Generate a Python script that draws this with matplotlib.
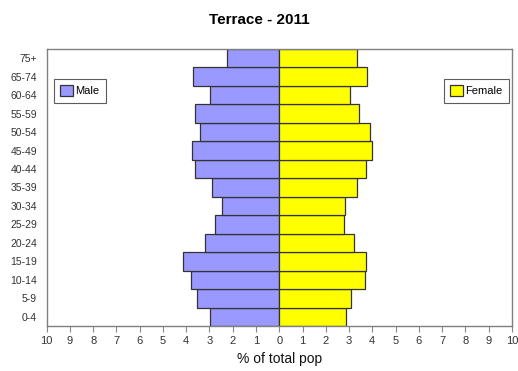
import matplotlib
matplotlib.use('Agg')
import matplotlib.pyplot as plt
import numpy as np

plt.rcParams['font.family'] = ['Liberation Sans', 'DejaVu Sans']

# Data (bottom to top)
age_groups = ['0-4', '5-9', '10-14', '15-19', '20-24', '25-29', '30-34', '35-39',
              '40-44', '45-49', '50-54', '55-59', '60-64', '65-74', '75+']
male = [2.97, 3.55, 3.78, 4.13, 3.21, 2.77, 2.45, 2.88,
        3.61, 3.74, 3.40, 3.61, 2.97, 3.70, 2.24]
female = [2.88, 3.09, 3.69, 3.75, 3.22, 2.78, 2.83, 3.35,
          3.73, 3.99, 3.91, 3.43, 3.05, 3.78, 3.35]
x_ticks = list(range(-10, 11))
x_tick_labels = [str(abs(v)) for v in x_ticks]

fig = plt.figure(figsize=(5.18, 3.71), dpi=100)
ax = fig.add_axes([0.0902, 0.1213, 0.8978, 0.7467])

y = np.arange(len(age_groups))
edge = '#333333'
ax.barh(y, -np.array(male), height=1.0, color='#9999FF', edgecolor=edge, linewidth=0.9, label='Male')
ax.barh(y, female, height=1.0, color='#FFFF00', edgecolor=edge, linewidth=0.9, label='Female')

ax.set_xlim(-10, 10)
ax.set_ylim(-0.5, len(age_groups) - 0.5)
ax.set_xticks(x_ticks)
ax.set_xticklabels(x_tick_labels)
ax.set_yticks(y)
ax.set_yticklabels(age_groups)
ax.tick_params(axis='y', length=0, labelsize=7.5, colors='#333333', pad=7)
ax.tick_params(axis='x', length=4, color='#888888', labelsize=8, labelcolor='#333333')

for s in ax.spines.values():
    s.set_color('#808080')
    s.set_linewidth(1)

ax.set_xlabel('% of total pop', fontsize=10, color='#111111', labelpad=4)
fig.suptitle('Terrace - 2011', fontsize=11, fontweight='bold', y=0.965)

handles, labels = ax.get_legend_handles_labels()
leg_kw = dict(fontsize=8, frameon=True, fancybox=False, edgecolor='#333333',
              handlelength=1.1, handleheight=1.1, borderpad=0.6, handletextpad=0.2,
              borderaxespad=0)
leg_m = ax.legend([handles[0]], [labels[0]], loc='upper left',
                  bbox_to_anchor=(0.015, 0.893), **leg_kw)
leg_m.get_frame().set_linewidth(0.8)
ax.add_artist(leg_m)
leg_f = ax.legend([handles[1]], [labels[1]], loc='upper right',
                  bbox_to_anchor=(0.9935, 0.893), **leg_kw)
leg_f.get_frame().set_linewidth(0.8)

fig.savefig('out.png', dpi=100)
